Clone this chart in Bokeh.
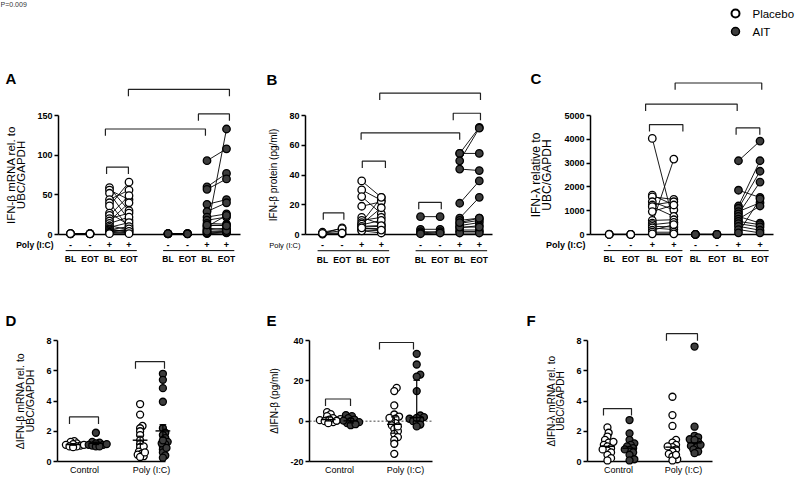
import numpy as np
from bokeh.plotting import figure
from bokeh.models import Range1d, FixedTicker, Span
from bokeh.layouts import row, column
from bokeh.core.properties import value
from bokeh.embed import file_html
from bokeh.resources import INLINE

FONT = "Liberation Sans"
PBO_FILL = "white"
AIT_FILL = "#3d3d3d"
INK = "black"

# ---------------- data ----------------
legend_labels = ["Placebo", "AIT"]
timepoints = ["BL", "EOT", "BL", "EOT", "BL", "EOT", "BL", "EOT"]
poly_signs = ["-", "-", "+", "+", "-", "-", "+", "+"]
bottom_categories = ["Control", "Poly (I:C)"]
p_value_text = "P=0.009"

# Panel A: IFN-beta mRNA
A_pbo_bl_ctrl = [1.0, 0.8, 1.2, 0.9, 1.1]
A_pbo_eot_ctrl = [1.0, 0.9, 1.1, 1.2, 0.8]
A_pbo_bl_pic = [59, 56, 52, 44, 40, 36, 27, 24, 20, 17, 14, 11, 9, 7, 6, 5, 4, 3, 2, 1]
A_pbo_eot_pic = [30, 44, 18, 56, 8, 66, 12, 49, 27, 40, 22, 6, 15, 3, 10, 5, 2, 7, 4, 1]
A_ait_bl_ctrl = [1.0, 0.9, 1.1, 0.8, 1.2]
A_ait_eot_ctrl = [1.0, 1.1, 0.9, 1.2, 0.8]
A_ait_bl_pic = [93, 60, 57, 38, 29, 22, 18, 14, 11, 8, 5, 3, 1, 6, 2, 10, 4, 12]
A_ait_eot_pic = [108, 77, 70, 44, 40, 26, 22, 13, 12, 6, 133, 4, 2, 8, 3, 24, 5, 11]
A_yticks = [0, 50, 100, 150]
A_brackets = [(2.85, 3.97, 85), (2.79, 7.92, 133), (7.56, 9.15, 152), (3.97, 9.15, 183)]

# Panel B: IFN-beta protein
B_pbo_bl_ctrl = [0.5, 1.0, 0.3, 1.5, 0.8]
B_pbo_eot_ctrl = [4.5, 2.5, 0.5, 4.0, 1.0]
B_pbo_bl_pic = [36, 30, 25.5, 19, 11.5, 9.5, 8, 6.5, 5, 4, 3, 2.5, 7, 5.5, 4.5]
B_pbo_eot_pic = [25, 23, 14, 22, 7, 11.5, 25, 9.5, 5.5, 4, 2.5, 1, 18, 6, 3]
B_ait_bl_ctrl = [12, 3.5, 2, 1, 0.5]
B_ait_eot_ctrl = [12, 3.5, 1.5, 2, 1]
B_ait_bl_pic = [54.5, 54.5, 49.5, 44, 21, 11, 9.5, 7.5, 6, 4.5, 3, 2, 1, 5, 8]
B_ait_eot_pic = [72, 54.5, 71.5, 43, 36, 25, 11, 9.5, 8, 6, 3, 2, 1, 5, 11]
B_yticks = [0, 20, 40, 60, 80]
B_brackets = [(1.04, 2.09, 14.5), (3.03, 4.21, 49.3), (5.91, 7.06, 21.6),
              (7.67, 9.06, 81.5), (2.97, 8.0, 68.3), (3.92, 9.06, 95)]

# Panel C: IFN-lambda
C_pbo_bl_ctrl = [0, 5, 10, 2]
C_pbo_eot_ctrl = [0, 4, 8, 2]
C_pbo_bl_pic = [4036, 1653, 1584, 1377, 1240, 1170, 964, 592, 482, 413, 344, 275, 179, 96, 28]
C_pbo_eot_pic = [480, 1240, 1474, 1033, 1377, 758, 1240, 620, 3168, 510, 317, 207, 413, 96, 28]
C_ait_bl_ctrl = [0, 6, 9, 3]
C_ait_eot_ctrl = [0, 5, 7, 2]
C_ait_bl_pic = [3099, 1860, 1198, 1102, 964, 868, 758, 647, 551, 454, 344, 207, 69]
C_ait_eot_pic = [3926, 1556, 3099, 2658, 1336, 2204, 482, 1198, 413, 317, 179, 69, 1500]
C_yticks = [0, 1000, 2000, 3000, 4000, 5000]
C_brackets = [(2.87, 4.42, 4619), (6.89, 7.99, 4480), (2.69, 6.94, 5479), (4.06, 8.08, 6366)]

# Panel D: delta IFN-beta mRNA
D_ctrl_pbo = [1.35, 1.3, 1.2, 1.15, 1.1, 1.05, 1.0, 1.0, 0.95, 1.1]
D_ctrl_ait = [1.9, 1.3, 1.25, 1.2, 1.1, 1.1, 1.05, 1.0, 1.0, 1.15]
D_pic_pbo = [3.8, 3.1, 2.35, 2.2, 2.0, 1.75, 1.4, 1.15, 0.95, 0.65, 0.5, 0.45, 0.35, 0.3, 1.0, 0.6]
D_pic_ait = [5.8, 5.4, 4.85, 3.95, 2.2, 1.9, 1.75, 1.55, 1.3, 1.15, 1.0, 0.8, 0.6, 0.4, 0.25, 1.2, 1.4, 0.9]
D_yticks = [0, 2, 4, 6, 8]
D_brackets = [(0.776, 1.209, 2.95), (1.761, 2.194, 6.6)]

# Panel E: delta IFN-beta protein
E_ctrl_pbo = [4.5, 3.5, 2.5, 1.5, 1.0, 0.5, 0.0, -0.5, 0.8, 0.2, -1.0]
E_ctrl_ait = [3.0, 2.5, 1.5, 0.8, 0.0, -0.5, -1.0, -2.0, 0.3, -1.5]
E_pic_pbo = [16.5, 14.9, 7.8, 3.3, 2.3, 1.2, 0.0, -1.0, -2.1, -3.8, -5.0, -6.3, -7.9, -9.3, -11.2, -16.2, 1.6, -2.6]
E_pic_ait = [33.4, 28.1, 23.1, 22.1, 14.9, 2.8, 2.0, 1.2, 0.7, 0.0, -0.7, -1.7, -2.6, 1.6]
E_yticks = [-20, 0, 20, 40]
E_brackets = [(0.788, 1.167, 11), (1.606, 2.121, 39)]

# Panel F: delta IFN-lambda mRNA
F_ctrl_pbo = [2.25, 1.9, 1.65, 1.43, 1.25, 1.1, 1.0, 0.88, 0.72, 0.6, 0.44, 0.22, 0.07, 1.3, 0.8]
F_ctrl_ait = [2.74, 1.86, 1.43, 1.2, 1.1, 1.0, 0.88, 0.77, 0.6, 0.44, 0.15, 0.07, 0.8]
F_pic_pbo = [4.28, 3.07, 2.35, 1.43, 1.25, 1.1, 0.95, 0.8, 0.66, 0.5, 0.33, 0.15, 0.07, 1.0, 0.44]
F_pic_ait = [7.6, 2.3, 1.7, 1.6, 1.47, 1.3, 1.16, 1.03, 0.95, 0.8, 0.66, 0.55, 1.1, 1.43]
F_yticks = [0, 2, 4, 6, 8]
F_brackets = [(0.769, 1.2, 3.5), (1.738, 2.215, 8.45)]

# x positions of the eight BL/EOT columns
POS_GAP = [1, 2, 3, 4, 6, 7, 8, 9]
POS_NOGAP = [1, 2, 3, 4, 5, 6, 7, 8]


# ---------------- helpers ----------------
class Panel:
    def __init__(self, x0, y0, w, h, fl, fr, ft, fb, ys, ye, pos1, unit):
        self.x0, self.y0, self.fl, self.fr, self.ft, self.fb = x0, y0, fl, fr, ft, fb
        self.unit = unit
        self.xs = 1 - (pos1 - fl) / unit
        self.xe = 1 + (fr - pos1) / unit
        self.ys, self.ye = ys, ye
        self.yscale = (fb - ft) / (ye - ys)
        self.p = figure(width=w, height=h,
                        x_range=Range1d(self.xs, self.xe), y_range=Range1d(ys, ye),
                        min_border_left=fl - x0, min_border_right=x0 + w - fr,
                        min_border_top=ft - y0, min_border_bottom=y0 + h - fb,
                        output_backend="svg", toolbar_location=None)
        p = self.p
        p.grid.visible = False
        p.outline_line_color = None
        p.background_fill_color = "white"
        p.border_fill_color = "white"

    def X(self, px):
        return self.xs + (px - self.fl) / self.unit

    def Y(self, py):
        return self.ys + (self.fb - py) / self.yscale


def style_axis(ax, label_size="10px"):
    ax.axis_line_width = 1.5
    ax.axis_line_color = INK
    ax.major_tick_line_width = 1.5
    ax.major_tick_line_color = INK
    ax.major_tick_out = 4
    ax.major_tick_in = 0
    ax.minor_tick_out = 0
    ax.minor_tick_in = 0
    ax.major_label_text_font = FONT
    ax.major_label_text_font_style = "bold"
    ax.major_label_text_font_size = "9px"
    ax.major_label_text_color = INK
    ax.major_label_standoff = 2
    ax.axis_label_text_font = FONT
    ax.axis_label_text_font_style = "normal"
    ax.axis_label_text_font_size = label_size
    ax.axis_label_text_color = INK
    ax.axis_label_text_line_height = 0.85
    ax.axis_label_standoff = 7


def txt(p, xs, ys, texts, size, style="bold", align="center", baseline="middle"):
    p.text(x=xs, y=ys, text=texts, text_font=value(FONT), text_font_size=size,
           text_font_style=style, text_align=align, text_baseline=baseline,
           text_color=INK, level="overlay")


def draw_brackets(pn, items, tick_px=7):
    dt = tick_px / pn.yscale
    xs, ys = [], []
    for x1, x2, yv in items:
        xs.append([x1, x1, x2, x2])
        ys.append([yv - dt, yv, yv, yv - dt])
    pn.p.multi_line(xs, ys, line_color="#222222", line_width=1.2, level="overlay")


def letter(pn, ch, px, py):
    txt(pn.p, [pn.X(px)], [pn.Y(py)], [ch], "15px", align="left", baseline="top")


def top_panel(g, ch, ylabel, label_size, yticks, pos, series, brk, poly_size, poly_style):
    pn = Panel(**g)
    p = pn.p
    for ax in p.axis:
        style_axis(ax, label_size)
    p.yaxis.ticker = FixedTicker(ticks=yticks)
    p.yaxis.axis_label = ylabel
    p.xaxis.ticker = FixedTicker(ticks=[])
    p.xaxis.major_label_text_font_size = "0px"
    p.xaxis.major_tick_out = 0
    fills = [PBO_FILL] * 4 + [AIT_FILL] * 4
    for k in (0, 2, 4, 6):
        bl, eot = series[k], series[k + 1]
        p.segment(x0=[pos[k]] * len(bl), y0=bl, x1=[pos[k + 1]] * len(eot), y1=eot,
                  line_color=INK, line_width=0.9, level="overlay")
    for k in range(8):
        p.scatter(x=[pos[k]] * len(series[k]), y=series[k], size=7.5,
                  fill_color=fills[k], line_color=INK, line_width=1.3, level="overlay")
    draw_brackets(pn, brk)
    # rows under the axis
    y_sign = pn.Y(pn.fb + 11)
    y_line = pn.Y(pn.fb + 16.5)
    y_tp = pn.Y(pn.fb + 25.5)
    txt(p, pos, [y_sign] * 8, poly_signs, "9px")
    txt(p, pos, [y_tp] * 8, timepoints, "8.5px")
    txt(p, [pn.X(pn.fl - 5)], [y_sign], ["Poly (I:C)"], poly_size, style=poly_style, align="right")
    p.segment(x0=[pos[0] - 0.25, pos[4] - 0.25], y0=[y_line, y_line],
              x1=[pos[3] + 0.4, pos[7] + 0.4], y1=[y_line, y_line],
              line_color=INK, line_width=1.0, level="overlay")
    letter(pn, ch, max(pn.x0 + 1, pn.x0 + 5 - (pn.x0 > 0) * 5), pn.y0 + 8)
    return p


def swarm_offsets(vals, ypx, xpx, d=3.8, step=1.2):
    n = len(vals)
    order = sorted(range(n), key=lambda i: vals[i])
    cands = [0.0]
    for j in range(1, 60):
        cands += [j * step, -j * step]
    placed = []
    offs = [0.0] * n
    for i in order:
        y = vals[i] * ypx
        for c in cands:
            if all((c - px) ** 2 + (y - py) ** 2 >= d * d for px, py in placed):
                break
        placed.append((c, y))
        offs[i] = c / xpx
    return offs


def bottom_panel(g, ch, ylabel, label_size, yticks, groups, brk, stat, zero_line=False,
                 overrides=None, swarm_d=3.8):
    pn = Panel(**g)
    p = pn.p
    for ax in p.axis:
        style_axis(ax, label_size)
    p.yaxis.ticker = FixedTicker(ticks=yticks)
    if overrides:
        p.yaxis.major_label_overrides = overrides
    p.yaxis.axis_label = ylabel
    p.xaxis.ticker = FixedTicker(ticks=[1, 2])
    p.xaxis.major_label_overrides = {1: bottom_categories[0], 2: bottom_categories[1]}
    p.xaxis.major_tick_out = 0
    p.xaxis.major_label_text_font_style = "normal"
    p.xaxis.major_label_text_font_size = "9px"
    p.xaxis.major_label_standoff = 3
    if zero_line:
        p.add_layout(Span(location=0, dimension="width", line_dash="2 2",
                          line_color="#444444", line_width=1.0))
    centers = [1 - 0.17, 1 + 0.17, 2 - 0.17, 2 + 0.17]
    fills = [PBO_FILL, AIT_FILL, PBO_FILL, AIT_FILL]
    for vals, cx, fill in zip(groups, centers, fills):
        offs = swarm_offsets(vals, pn.yscale, pn.unit, d=swarm_d)
        p.scatter(x=[cx + o for o in offs], y=vals, size=7, fill_color=fill,
                  line_color=INK, line_width=1.3, level="overlay")
    hw, cw = 0.11, 0.05
    for vals, cx in zip(groups, centers):
        a = np.array(vals, dtype=float)
        if stat == "mean_sem":
            c = a.mean()
            lo = c - a.std(ddof=1) / np.sqrt(len(a))
            hi = c + a.std(ddof=1) / np.sqrt(len(a))
        elif stat == "median_iqr":
            c = np.median(a)
            lo, hi = np.percentile(a, [25, 75])
        else:
            c = np.median(a)
            lo = hi = c
        p.segment(x0=[cx - hw], y0=[c], x1=[cx + hw], y1=[c], line_color=INK,
                  line_width=1.4, level="overlay")
        if hi > lo:
            p.segment(x0=[cx, cx - cw, cx - cw], y0=[lo, hi, lo], x1=[cx, cx + cw, cx + cw],
                      y1=[hi, hi, lo], line_color=INK, line_width=1.2, level="overlay")
    draw_brackets(pn, brk)
    letter(pn, ch, max(pn.x0 + 1, pn.x0 + 5 - (pn.x0 > 0) * 5), pn.y0 + 19)
    return p


# ---------------- header (legend) ----------------
HDR_W, HDR_H = 800, 60
hdr = figure(width=HDR_W, height=HDR_H, x_range=Range1d(0, HDR_W), y_range=Range1d(0, HDR_H),
             x_axis_type=None, y_axis_type=None, min_border=0,
             output_backend="svg", toolbar_location=None)
hdr.grid.visible = False
hdr.outline_line_color = None
hdr.scatter(x=[735], y=[HDR_H - 13], size=8, fill_color=PBO_FILL, line_color=INK, line_width=2)
hdr.scatter(x=[735], y=[HDR_H - 31], size=8, fill_color=AIT_FILL, line_color=INK, line_width=1.5)
hdr.text(x=[752, 752], y=[HDR_H - 13, HDR_H - 31], text=legend_labels, text_font=value(FONT),
         text_font_size="11.5px", text_baseline="middle", text_align="left", text_color=INK)
hdr.text(x=[0], y=[HDR_H], text=[p_value_text], text_font=value(FONT), text_font_size="7px",
         text_baseline="top", text_align="left", text_color="#333333")

# ---------------- panels ----------------
GA = dict(x0=0, y0=60, w=265, h=232, fl=58, fr=240, ft=115, fb=237, ys=0, ye=150, pos1=70, unit=19.5)
GB = dict(x0=265, y0=60, w=260, h=232, fl=305, fr=492, ft=113, fb=234, ys=0, ye=80, pos1=322, unit=19.6)
GC = dict(x0=525, y0=60, w=275, h=232, fl=587, fr=773, ft=115, fb=237, ys=0, ye=5000, pos1=606, unit=21.9)
GD = dict(x0=0, y0=292, w=265, h=186, fl=57, fr=165, ft=340, fb=461, ys=0, ye=8, pos1=84, unit=67)
GE = dict(x0=265, y0=292, w=260, h=186, fl=309, fr=432, ft=340, fb=461, ys=-20, ye=40, pos1=339, unit=66)
GF = dict(x0=525, y0=292, w=275, h=186, fl=587, fr=712, ft=340, fb=461, ys=0, ye=8, pos1=618, unit=65)

pA = top_panel(GA, "A", "IFN-β mRNA rel. to\nUBC/GAPDH", "11.5px", A_yticks, POS_GAP,
               [A_pbo_bl_ctrl, A_pbo_eot_ctrl, A_pbo_bl_pic, A_pbo_eot_pic,
                A_ait_bl_ctrl, A_ait_eot_ctrl, A_ait_bl_pic, A_ait_eot_pic],
               A_brackets, "8.5px", "bold")
pB = top_panel(GB, "B", "IFN-β protein (pg/ml)", "10px", B_yticks, POS_GAP,
               [B_pbo_bl_ctrl, B_pbo_eot_ctrl, B_pbo_bl_pic, B_pbo_eot_pic,
                B_ait_bl_ctrl, B_ait_eot_ctrl, B_ait_bl_pic, B_ait_eot_pic],
               B_brackets, "7.5px", "normal")
pC = top_panel(GC, "C", "IFN-λ relative to\nUBC/GAPDH", "12px", C_yticks, POS_NOGAP,
               [C_pbo_bl_ctrl, C_pbo_eot_ctrl, C_pbo_bl_pic, C_pbo_eot_pic,
                C_ait_bl_ctrl, C_ait_eot_ctrl, C_ait_bl_pic, C_ait_eot_pic],
               C_brackets, "9px", "bold")
pD = bottom_panel(GD, "D", "ΔIFN-β mRNA rel. to\nUBC/GAPDH", "10.5px", D_yticks,
                  [D_ctrl_pbo, D_ctrl_ait, D_pic_pbo, D_pic_ait], D_brackets, "mean_sem",
                  swarm_d=3.0)
pE = bottom_panel(GE, "E", "ΔIFN-β (pg/ml)", "10px", E_yticks,
                  [E_ctrl_pbo, E_ctrl_ait, E_pic_pbo, E_pic_ait], E_brackets, "median_iqr",
                  zero_line=True, overrides={-20: "-20", 0: "0", 20: "20", 40: "40"})
pF = bottom_panel(GF, "F", "ΔIFN-λ mRNA rel. to\nUBC/GAPDH", "10px", F_yticks,
                  [F_ctrl_pbo, F_ctrl_ait, F_pic_pbo, F_pic_ait], F_brackets, "median")

layout = column(hdr, row(pA, pB, pC), row(pD, pE, pF))
open("out.html", "w").write(file_html(layout, INLINE))
